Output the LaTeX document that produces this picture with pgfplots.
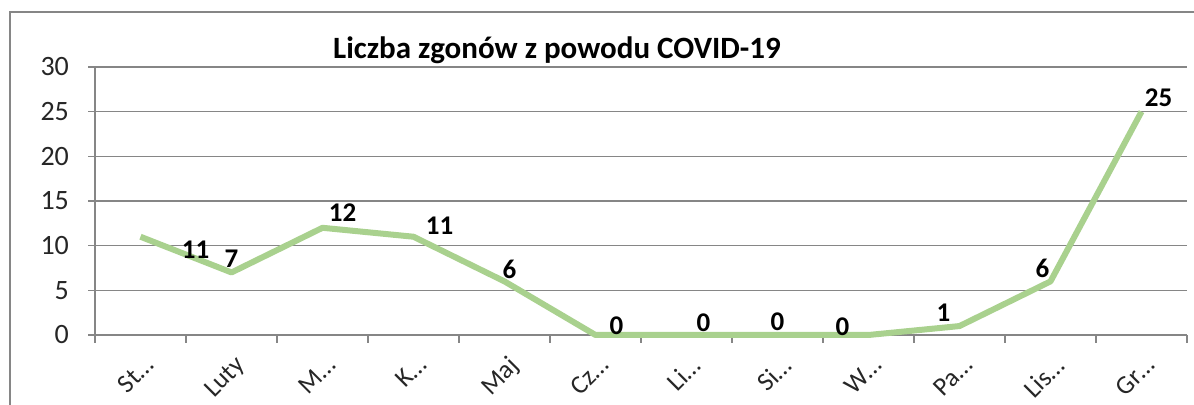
\documentclass[border=0pt]{standalone}
\usepackage{pgfplots}
\usepackage{pgfplotstable}
\pgfplotsset{compat=1.18}
\usepackage{fontspec}
\setmainfont{Carlito}
\definecolor{linegreen}{HTML}{A9D18E}
\definecolor{gridgray}{HTML}{868686}
\pgfplotstableread{
x y dx dy
0 11 27.5 -6.5
1 7 0 7
2 12 10 7.5
3 11 13 5.5
4 6 2.5 6
5 0 10.5 4.5
6 0 8.5 6
7 0 0 6.5
8 0 -13 4
9 1 -8 6.5
10 6 -4 6.5
11 25 8.5 7
}\data
\begin{document}
\begin{tikzpicture}
\clip (0,0) rectangle (597pt,202.5pt);
\draw[gridgray, line width=0.6pt] (5pt,-20pt) rectangle (620pt,196.5pt);
\node[font=\bfseries\fontsize{15.5}{18}\selectfont] at (278.5pt,177.5pt) {Liczba zgonów z powodu COVID-19};
\begin{axis}[
  at={(47.5pt,35pt)}, anchor=south west,
  scale only axis, width=546pt, height=134pt,
  xmin=-0.5, xmax=11.5, ymin=0, ymax=30,
  ytick={0,5,...,30},
  xtick={0,...,11},
  xticklabels={St…,Luty,M…,K…,Maj,Cz…,Li…,Si…,W…,Pa…,Lis…,Gr…},
  minor xtick={-0.5,0.5,...,11.5},
  x tick style={draw=none},
  minor x tick style={draw=gridgray, line width=0.6pt},
  minor tick length=4pt,
  y tick style={draw=gridgray, line width=0.6pt},
  major tick length=3.5pt,
  tick align=outside,
  axis x line*=bottom, axis y line*=left,
  axis line style={draw=gridgray, line width=0.6pt, -},
  ymajorgrids, grid style={draw=gridgray, line width=0.6pt},
  ticklabel style={text=black!85},
  y tick label style={font=\fontsize{14}{16}\selectfont, xshift=-6pt},
  x tick label style={rotate=45, anchor=north east, font=\fontsize{13}{15}\selectfont, yshift=-2pt},
  /pgf/number format/assume math mode=true,
  clip=false,
]
\addplot[color=linegreen, line width=3pt, line join=round,
  nodes near coords,
  visualization depends on={\thisrow{dx}\as\dx},
  visualization depends on={\thisrow{dy}\as\dy},
  every node near coord/.append style={anchor=center, xshift=\dx pt, yshift=\dy pt, font=\bfseries\fontsize{13.5}{16}\selectfont, text=black}
] table[x=x,y=y] {\data};
\end{axis}
\end{tikzpicture}
\end{document}
